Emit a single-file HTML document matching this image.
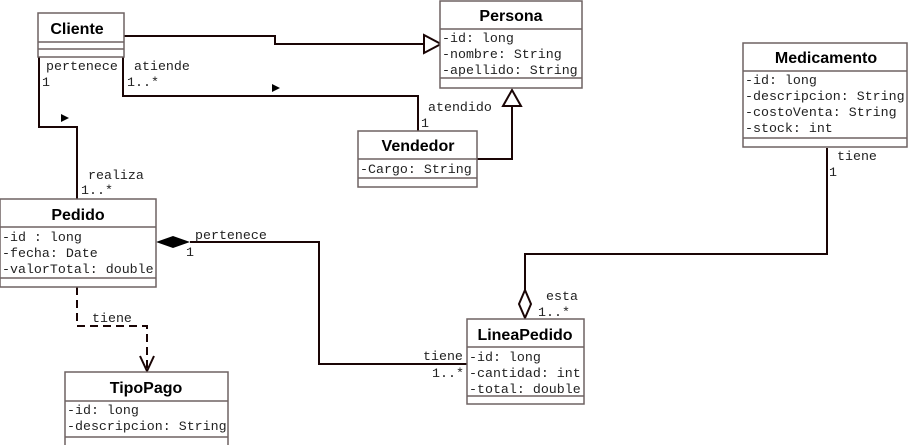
<!DOCTYPE html>
<html><head><meta charset="utf-8"><style>
html,body{margin:0;padding:0;background:#fff;}
svg{display:block}
.t{font-family:"Liberation Sans",sans-serif;font-weight:bold;font-size:16px;fill:#000;text-anchor:middle}
.a{font-family:"Liberation Mono",monospace;font-size:13.3px;fill:#222}
.box{fill:#fff;stroke:#6e6262;stroke-width:1.5}
.ln{stroke:#6e6262;stroke-width:1.5}
.c{fill:none;stroke:#1a0505;stroke-width:2}
</style></head><body>
<svg width="908" height="445" viewBox="0 0 908 445" xmlns="http://www.w3.org/2000/svg">
<polyline class="c" points="124,36 275,36 275,44 424,44"/>
<polygon points="424,35 441,44 424,53" fill="#fff" stroke="#1a0505" stroke-width="2"/>
<polyline class="c" points="123,57 123,96 418,96 418,131"/>
<polygon points="272,84 280,88 272,92" fill="#000"/>
<polyline class="c" points="39,57 39,127 77,127 77,199"/>
<polygon points="61,114 69,118 61,122" fill="#000"/>
<polyline class="c" points="477,159 512,159 512,106"/>
<polygon points="503,106 512,90 521,106" fill="#fff" stroke="#1a0505" stroke-width="2"/>
<polyline class="c" points="827,148 827,254 525,254 525,290"/>
<polygon points="525,290 531,304 525,318 519,304" fill="#fff" stroke="#1a0505" stroke-width="2"/>
<polyline class="c" points="190,242 319,242 319,364 467,364"/>
<polygon points="156,242 173,236 190,242 173,248" fill="#000"/>
<polyline points="77,287 77,326 147,326 147,370" fill="none" stroke="#1a0505" stroke-width="2" stroke-dasharray="8,5"/>
<polyline points="140,356 147,371 154,356" fill="none" stroke="#1a0505" stroke-width="2"/>
<g class="a">
<text x="46" y="70">pertenece</text><text x="42" y="86">1</text>
<text x="134" y="70">atiende</text><text x="127" y="86">1..*</text>
<text x="428" y="111">atendido</text><text x="421" y="127">1</text>
<text x="88" y="179">realiza</text><text x="81" y="194">1..*</text>
<text x="195" y="239">pertenece</text><text x="186" y="256">1</text>
<text x="92" y="322">tiene</text>
<text x="423" y="360">tiene</text><text x="432" y="377">1..*</text>
<text x="546" y="300">esta</text><text x="538" y="316">1..*</text>
<text x="837" y="160">tiene</text><text x="829" y="176">1</text>
</g>
<rect class="box" x="38" y="13" width="86" height="44"/>
<line class="ln" x1="38" y1="42" x2="124" y2="42"/><line class="ln" x1="38" y1="49" x2="124" y2="49"/>
<text class="t" x="77" y="34">Cliente</text>
<rect class="box" x="440" y="1" width="142" height="87"/>
<line class="ln" x1="440" y1="29" x2="582" y2="29"/><line class="ln" x1="440" y1="78" x2="582" y2="78"/>
<text class="t" x="511" y="21">Persona</text>
<g class="a"><text x="442" y="42">-id: long</text><text x="442" y="58">-nombre: String</text><text x="442" y="74">-apellido: String</text></g>
<rect class="box" x="358" y="131" width="119" height="56"/>
<line class="ln" x1="358" y1="159" x2="477" y2="159"/><line class="ln" x1="358" y1="178" x2="477" y2="178"/>
<text class="t" x="418" y="151">Vendedor</text>
<g class="a"><text x="360" y="173">-Cargo: String</text></g>
<rect class="box" x="743" y="43" width="164" height="104"/>
<line class="ln" x1="743" y1="71" x2="907" y2="71"/><line class="ln" x1="743" y1="138" x2="907" y2="138"/>
<text class="t" x="826" y="63">Medicamento</text>
<g class="a"><text x="745" y="84">-id: long</text><text x="745" y="100">-descripcion: String</text><text x="745" y="116">-costoVenta: String</text><text x="745" y="132">-stock: int</text></g>
<rect class="box" x="0" y="199" width="156" height="88"/>
<line class="ln" x1="0" y1="227" x2="156" y2="227"/><line class="ln" x1="0" y1="278" x2="156" y2="278"/>
<text class="t" x="78" y="220">Pedido</text>
<g class="a"><text x="2" y="241">-id : long</text><text x="2" y="257">-fecha: Date</text><text x="2" y="273">-valorTotal: double</text></g>
<rect class="box" x="467" y="319" width="117" height="85"/>
<line class="ln" x1="467" y1="347" x2="584" y2="347"/><line class="ln" x1="467" y1="396" x2="584" y2="396"/>
<text class="t" x="525" y="340">LineaPedido</text>
<g class="a"><text x="469" y="361">-id: long</text><text x="469" y="377">-cantidad: int</text><text x="469" y="393">-total: double</text></g>
<rect class="box" x="65" y="372" width="163" height="76"/>
<line class="ln" x1="65" y1="401" x2="228" y2="401"/><line class="ln" x1="65" y1="437" x2="228" y2="437"/>
<text class="t" x="146" y="393">TipoPago</text>
<g class="a"><text x="67" y="414">-id: long</text><text x="67" y="430">-descripcion: String</text></g>
</svg>
</body></html>
